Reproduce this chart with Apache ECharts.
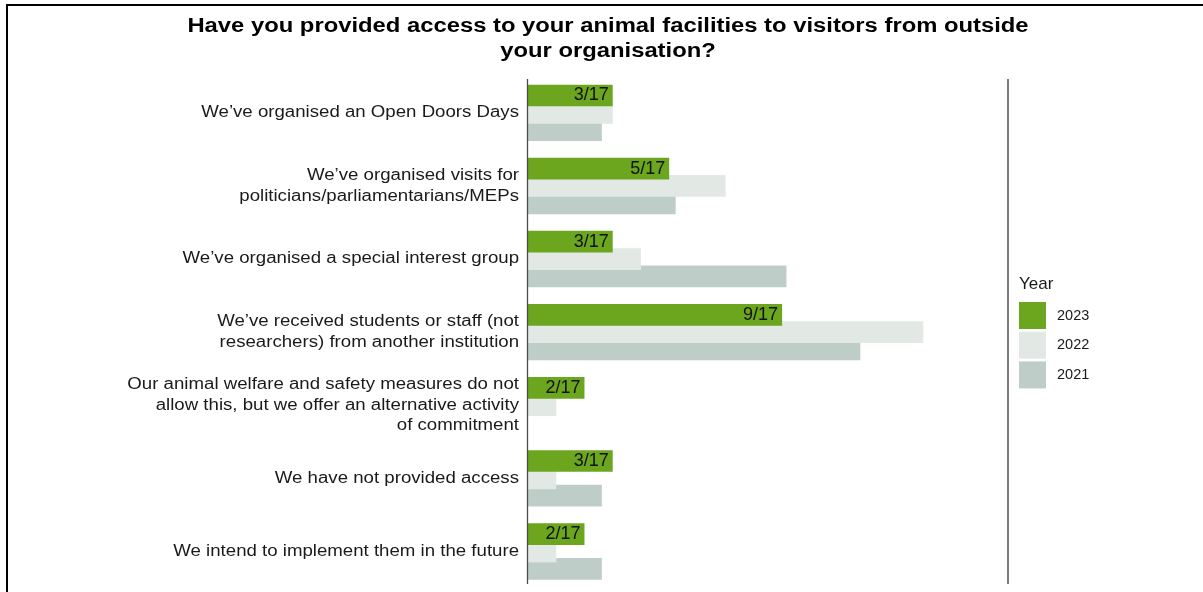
<!DOCTYPE html>
<html>
<head>
<meta charset="utf-8">
<script src="https://cdn.jsdelivr.net/npm/echarts@6/dist/echarts.min.js"></script>
<style>
  html, body { margin: 0; padding: 0; background: #ffffff; }
  #chart { width: 1203px; height: 592px; }
</style>
</head>
<body>
<div id="chart"></div>
<script>
// Survey answers (one row per option)
const categories = [
  "We’ve organised an Open Doors Days",
  "We’ve organised visits for\npoliticians/parliamentarians/MEPs",
  "We’ve organised a special interest group",
  "We’ve received students or staff (not\nresearchers) from another institution",
  "Our animal welfare and safety measures do not\nallow this, but we offer an alternative activity\nof commitment",
  "We have not provided access",
  "We intend to implement them in the future"
];

// Survey years and number of respondents per year
const years = ["2023", "2022", "2021"];
const respondents2023 = 17;
const respondents2022 = 17;
const respondents2021 = 13;

// Number of organisations choosing each option
const counts2023 = [3, 5, 3, 9, 2, 3, 2];
const counts2022 = [3, 7, 4, 14, 1, 1, 1];
const counts2021 = [2, 4, 7, 9, 0, 2, 2];

// Share axis range (percent)
const axisMin = 0;
const axisMax = 100;

const share = (counts, n) => counts.map(c => (c / n) * 100);

const FONT = "'Liberation Sans', Arial, sans-serif";
const colors = { "2023": "#6ba61e", "2022": "#e2e9e5", "2021": "#bfcdc9" };

// The title and the option labels use a horizontally widened face
(function () {
  const proto = CanvasRenderingContext2D.prototype;
  const fill = proto.fillText;
  proto.fillText = function (text, x, y, maxWidth) {
    const f = this.font || '';
    let sx = 1;
    if (/bold/.test(f) && /\b20px/.test(f)) sx = 1.19;
    else if (/\b16px/.test(f)) sx = 1.165;
    if (sx === 1) {
      return maxWidth === undefined ? fill.call(this, text, x, y) : fill.call(this, text, x, y, maxWidth);
    }
    this.save();
    this.translate(x, y);
    this.scale(sx, 1);
    if (maxWidth === undefined) fill.call(this, text, 0, 0);
    else fill.call(this, text, 0, 0, maxWidth / sx);
    this.restore();
  };
})();

const chart = echarts.init(document.getElementById('chart'), null, { renderer: 'canvas' });

const barCommon = {
  type: 'bar',
  barWidth: 21.7,
  barGap: '-20%',
  silent: true,
  animation: false
};

chart.setOption({
  animation: false,
  backgroundColor: '#ffffff',
  textStyle: { fontFamily: FONT },
  title: [
    {
      text: 'Have you provided access to your animal facilities to visitors from outside\nyour organisation?',
      left: 603,
      top: 9,
      textAlign: 'center',
      textStyle: { fontFamily: FONT, fontSize: 20, fontWeight: 'bold', color: '#000000', lineHeight: 25 }
    },
    {
      text: 'Year',
      left: 1014,
      top: 271,
      textStyle: { fontFamily: FONT, fontSize: 17, fontWeight: 'normal', color: '#1a1a1a' }
    }
  ],
  legend: {
    orient: 'vertical',
    left: 1014,
    top: 297,
    itemWidth: 27,
    itemHeight: 27,
    itemGap: 2.7,
    icon: 'rect',
    selectedMode: false,
    data: years,
    textStyle: { fontFamily: FONT, fontSize: 14.5, color: '#1a1a1a', padding: [0, 0, 0, 6] }
  },
  grid: {
    left: 528,
    width: 480,
    top: 76.3,
    height: 511.7,
    containLabel: false
  },
  xAxis: {
    type: 'value',
    min: axisMin,
    max: axisMax,
    interval: 100,
    axisLine: { show: false },
    axisTick: { show: false },
    axisLabel: { show: false },
    splitLine: { show: false }
  },
  yAxis: {
    type: 'category',
    inverse: true,
    data: categories,
    axisLine: { show: false },
    axisTick: { show: false },
    axisLabel: {
      fontFamily: FONT,
      fontSize: 16,
      color: '#1a1a1a',
      lineHeight: 20.5,
      margin: 9,
      align: 'right',
      padding: [4, 0, 0, 0]
    }
  },
  series: [
    Object.assign({}, barCommon, {
      name: '2023',
      z: 4,
      itemStyle: { color: colors['2023'] },
      data: share(counts2023, respondents2023),
      label: {
        show: true,
        position: 'insideRight',
        distance: 4,
        fontFamily: FONT,
        fontSize: 18,
        color: '#111111',
        padding: [3, 0, 0, 0],
        formatter: p => counts2023[p.dataIndex] + '/' + respondents2023
      }
    }),
    Object.assign({}, barCommon, {
      name: '2022',
      z: 3,
      itemStyle: { color: colors['2022'] },
      data: share(counts2022, respondents2022)
    }),
    Object.assign({}, barCommon, {
      name: '2021',
      z: 2,
      itemStyle: { color: colors['2021'] },
      data: share(counts2021, respondents2021)
    })
  ]
});

// Axis lines at 0 % and 100 %, plus the outer frame
const x0 = chart.convertToPixel({ xAxisIndex: 0 }, axisMin);
const x100 = chart.convertToPixel({ xAxisIndex: 0 }, axisMax);
chart.setOption({
  graphic: [
    { type: 'line', shape: { x1: x0 - 0.5, y1: 79, x2: x0 - 0.5, y2: 584 }, style: { stroke: '#4d4d4d', lineWidth: 1.3 }, z: 10 },
    { type: 'line', shape: { x1: x100, y1: 79, x2: x100, y2: 584 }, style: { stroke: '#333333', lineWidth: 1.3 }, z: 10 },
    { type: 'polyline', shape: { points: [[7, 592], [7, 5], [1203, 5]] }, style: { stroke: '#000000', lineWidth: 2, fill: null }, z: 10 }
  ]
});
</script>
</body>
</html>
